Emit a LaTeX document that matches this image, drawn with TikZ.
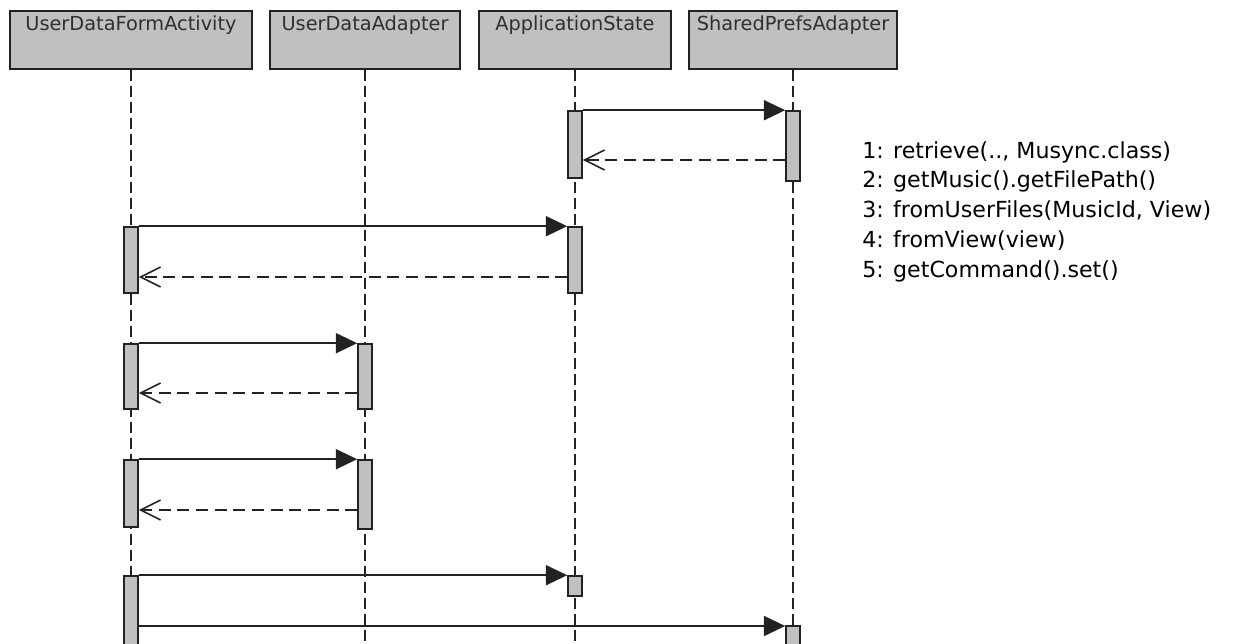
\documentclass[tikz,border=0pt]{standalone}
\usepackage{fontspec}
\setmainfont{DejaVu Sans}
\usetikzlibrary{arrows.meta,fit}
\definecolor{boxgray}{HTML}{C0C0C0}
\definecolor{ink}{HTML}{222222}
\definecolor{labelink}{HTML}{303030}
\begin{document}
\begin{tikzpicture}[x=0.75pt,y=-0.75pt,
  header/.style={draw=ink, line width=1.5pt, fill=boxgray, inner sep=0pt},
  act/.style={draw=ink, line width=1.2pt, fill=boxgray, inner sep=0pt},
  lifeline/.style={draw=ink, line width=1.4pt, dash pattern=on 8pt off 4pt},
  call/.style={draw=ink, line width=1.4pt, -{Triangle[length=16pt,width=15pt]}},
  reply/.style={draw=ink, line width=1.4pt, dash pattern=on 9pt off 5pt,
    -{Straight Barb[length=15pt,width=15pt,line width=1.2pt]}},
  title/.style={anchor=base, inner sep=0pt, text=labelink,
    font=\fontsize{14.5}{17}\selectfont},
  note/.style={anchor=base west, inner sep=0pt, text=black,
    font=\fontsize{16.6}{19}\selectfont}]

\clip (0,0) rectangle (1242,643);
\fill[white] (0,0) rectangle (1242,643);
\coordinate (bot) at (0,650);

% participants
\node[header, fit={(10,11)(252,69)}] (h1) {};
\node[header, fit={(270,11)(460,69)}] (h2) {};
\node[header, fit={(479,11)(671,69)}] (h3) {};
\node[header, fit={(689,11)(897,69)}] (h4) {};
\node[title] (t1) at (h1.north |- 0,30) {UserDataFormActivity};
\node[title] (t2) at (h2.north |- 0,30) {UserDataAdapter};
\node[title] (t3) at (h3.north |- 0,30) {ApplicationState};
\node[title] (t4) at (h4.north |- 0,30) {SharedPrefsAdapter};

% lifelines
\foreach \h in {h1,h2,h3,h4}
  \draw[lifeline] (\h.south) -- (\h.south |- bot);

% activation bars
\node[act, fit={(568,111)(582,178)}] (as1) {};
\node[act, fit={(786,111)(800,181)}] (sp1) {};
\node[act, fit={(124,227)(138,293)}] (u1) {};
\node[act, fit={(568,227)(582,293)}] (as2) {};
\node[act, fit={(124,344)(138,409)}] (u2) {};
\node[act, fit={(358,344)(372,409)}] (da1) {};
\node[act, fit={(124,460)(138,527)}] (u3) {};
\node[act, fit={(358,460)(372,529)}] (da2) {};
\node[act, fit={(124,576)(138,660)}] (u4) {};
\node[act, fit={(568,576)(582,596)}] (as3) {};
\node[act, fit={(786,626)(800,660)}] (sp2) {};

% reply levels and late call level
\coordinate (r1) at (0,160);
\coordinate (r2) at (0,277);
\coordinate (r3) at (0,393);
\coordinate (r4) at (0,510);
\coordinate (c6) at (0,626);

% messages
\draw[call] (as1.north east) -- (sp1.north west);
\draw[reply] (sp1.west |- r1) -- (as1.east |- r1);
\draw[call] (u1.north east) -- (as2.north west);
\draw[reply] (as2.west |- r2) -- (u1.east |- r2);
\draw[call] (u2.north east) -- (da1.north west);
\draw[reply] (da1.west |- r3) -- (u2.east |- r3);
\draw[call] (u3.north east) -- (da2.north west);
\draw[reply] (da2.west |- r4) -- (u3.east |- r4);
\draw[call] (u4.north east) -- (as3.north west);
\draw[call] (u4.east |- c6) -- (sp2.west |- c6);

% message legend
\node[note] (n1) at (862,158) {1: retrieve(.., Musync.class)};
\node[note] (n2) at (862,187) {2: getMusic().getFilePath()};
\node[note] (n3) at (862,217) {3: fromUserFiles(MusicId, View)};
\node[note] (n4) at (862,247) {4: fromView(view)};
\node[note] (n5) at (862,277) {5: getCommand().set()};
\end{tikzpicture}
\end{document}
